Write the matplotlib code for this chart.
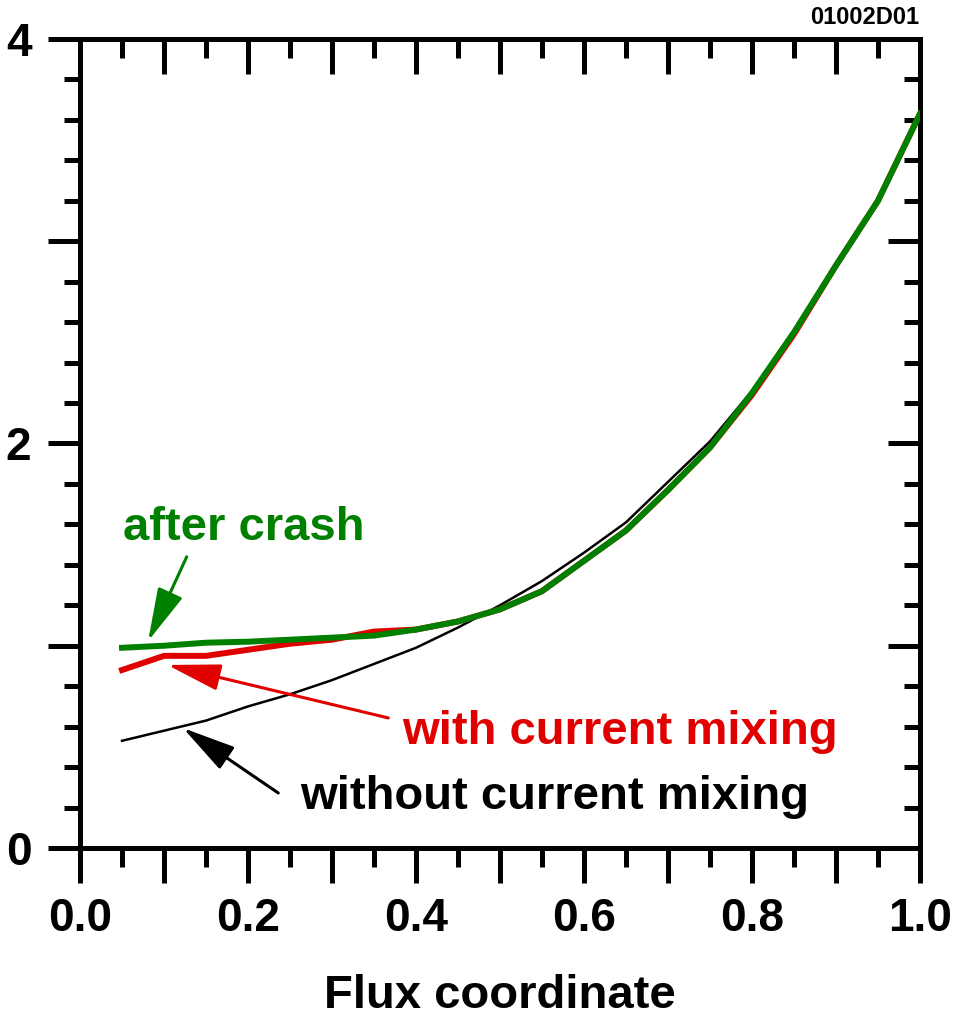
import numpy as np
import matplotlib
matplotlib.use('Agg')
import matplotlib.pyplot as plt
from matplotlib.ticker import MultipleLocator, NullFormatter

plt.rcParams['font.family'] = ['Liberation Sans', 'DejaVu Sans']
plt.rcParams['font.weight'] = 'bold'

# flux coordinate grid
x = [0.05, 0.10, 0.15, 0.20, 0.25, 0.30, 0.35, 0.40, 0.45, 0.50,
     0.55, 0.60, 0.65, 0.70, 0.75, 0.80, 0.85, 0.90, 0.95, 1.00]

without_mix = [0.53, 0.58, 0.63, 0.70, 0.76, 0.83, 0.91, 0.99, 1.09, 1.20,
               1.32, 1.46, 1.61, 1.81, 2.01, 2.26, 2.55, 2.88, 3.21, 3.63]
with_mix = [0.88, 0.95, 0.95, 0.98, 1.01, 1.03, 1.07, 1.08, 1.12, 1.18,
            1.27, 1.42, 1.57, 1.77, 1.98, 2.24, 2.54, 2.88, 3.20, 3.63]
after_crash = [0.99, 1.00, 1.015, 1.02, 1.03, 1.04, 1.05, 1.08, 1.12, 1.18,
               1.27, 1.42, 1.57, 1.77, 1.98, 2.25, 2.55, 2.88, 3.20, 3.63]

GREEN = '#008000'
RED = '#e00000'

fig = plt.figure(figsize=(9.62, 10.31), dpi=100)
ax = fig.add_axes([0.0832, 0.1775, 0.8731, 0.7847])

ax.plot(x, without_mix, '-', color='black', lw=1.8, zorder=3)
ax.plot(x, with_mix, '-', color=RED, lw=4.3, zorder=4)
ax.plot(x, after_crash, '-', color=GREEN, lw=4.3, zorder=5)

ax.set_xlim(0, 1.0)
ax.set_ylim(0, 4)

for s in ax.spines.values():
    s.set_linewidth(3.6)

# bottom / left: outward ticks with labels
ax.xaxis.set_minor_locator(MultipleLocator(0.05))
ax.set_xticks(np.arange(0, 1.01, 0.1))
ax.set_xticklabels(['0.0', '', '0.2', '', '0.4', '', '0.6', '', '0.8', '', '1.0'])
ax.yaxis.set_minor_locator(MultipleLocator(0.2))
ax.set_yticks([0, 1, 2, 3, 4])
ax.set_yticklabels(['0', '', '2', '', '4'])
ax.tick_params(axis='x', which='major', direction='out', length=25, width=3.6,
               labelsize=33, pad=10)
ax.tick_params(axis='x', which='minor', direction='out', length=14, width=3.6)
ax.tick_params(axis='y', which='major', direction='out', length=23, width=3.6,
               labelsize=33, pad=12)
ax.tick_params(axis='y', which='minor', direction='out', length=11.5, width=3.6)

# top / right: inward ticks, no labels
top = ax.secondary_xaxis('top')
top.xaxis.set_major_locator(MultipleLocator(0.1))
top.xaxis.set_minor_locator(MultipleLocator(0.05))
top.xaxis.set_major_formatter(NullFormatter())
top.tick_params(which='major', direction='in', length=25, width=3.6)
top.tick_params(which='minor', direction='in', length=14, width=3.6)
top.spines['top'].set_linewidth(3.6)

right = ax.secondary_yaxis('right')
right.yaxis.set_major_locator(MultipleLocator(1))
right.yaxis.set_minor_locator(MultipleLocator(0.2))
right.yaxis.set_major_formatter(NullFormatter())
right.tick_params(which='major', direction='in', length=23, width=3.6)
right.tick_params(which='minor', direction='in', length=11.5, width=3.6)
right.spines['right'].set_linewidth(3.6)

ax.set_xlabel('Flux coordinate', fontsize=34, fontweight='bold', labelpad=24)

arrow = dict(arrowstyle='-|>,head_length=0.6,head_width=0.15', lw=2.2,
             mutation_scale=55, shrinkA=0, shrinkB=0)
ax.annotate('', xy=(0.081, 1.023), xytext=(0.127, 1.44),
            arrowprops=dict(arrow, color=GREEN))
ax.text(0.051, 1.58, 'after crash', color=GREEN, fontsize=34,
        fontweight='bold', va='center', ha='left')
ax.annotate('', xy=(0.104, 0.905), xytext=(0.367, 0.643),
            arrowprops=dict(arrow, color=RED))
ax.text(0.383, 0.574, 'with current mixing', color=RED, fontsize=34,
        fontweight='bold', va='center', ha='left')
ax.annotate('', xy=(0.1226, 0.593), xytext=(0.236, 0.272),
            arrowprops=dict(arrow, color='black'))
ax.text(0.262, 0.252, 'without current mixing', color='black', fontsize=34,
        fontweight='bold', va='center', ha='left')

fig.text(0.956, 0.983, '01002D01', fontsize=17, fontweight='bold',
         ha='right', va='center')

fig.savefig('out.png', dpi=100)
